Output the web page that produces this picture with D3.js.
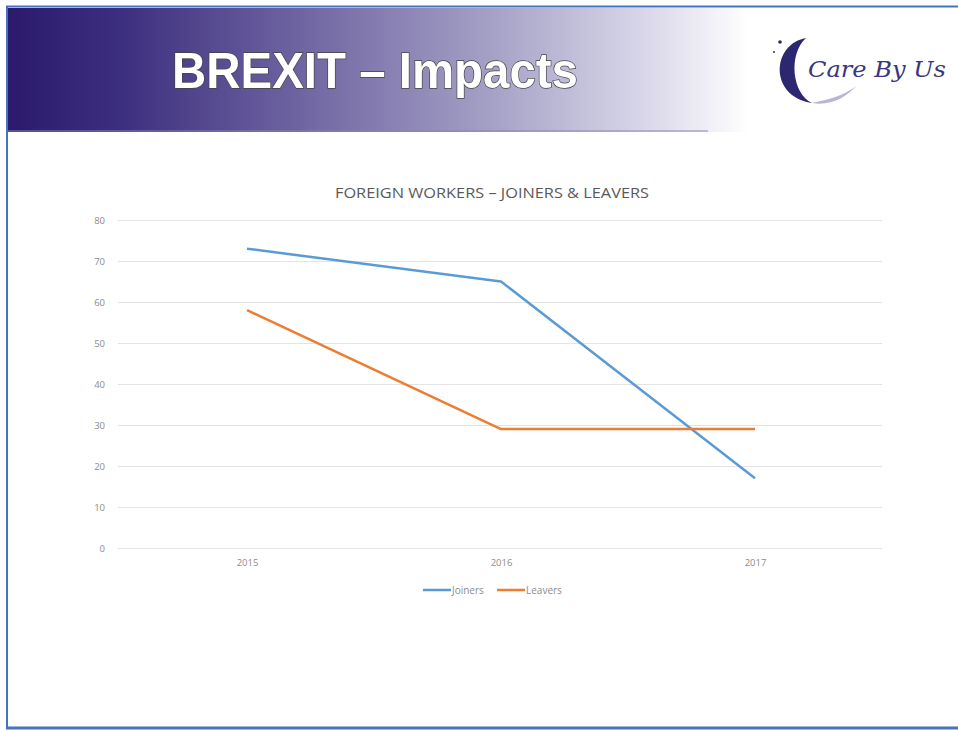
<!DOCTYPE html>
<html><head><meta charset="utf-8">
<script src="https://cdn.jsdelivr.net/npm/d3@7"></script>
<style>html,body{margin:0;padding:0;background:#fff;}svg{display:block;}</style>
</head><body>
<script>
const categories = ["2015", "2016", "2017"];
const joiners = [73, 65, 17];
const leavers = [58, 29, 29];
const yTicks = [0, 10, 20, 30, 40, 50, 60, 70, 80];
const seriesNames = ["Joiners", "Leavers"];
const seriesColors = ["#5b9bd5", "#ed7d31"];
const chartTitle = "FOREIGN WORKERS – JOINERS & LEAVERS";
const slideTitle = "BREXIT – Impacts";

const W = 958, H = 730;
const svg = d3.select("body").append("svg").attr("width", W).attr("height", H);
const defs = svg.append("defs");
const grad = defs.append("linearGradient").attr("id", "hdr").attr("x1", "0").attr("x2", "1").attr("y1", "0").attr("y2", "0");
[[0, "#2b1a6c"], [0.12, "#3d2f7f"], [0.3, "#6d62a0"], [0.5, "#a29ec4"], [0.68, "#dcdaeb"], [0.78, "#ffffff"], [1, "#ffffff"]]
  .forEach(([o, c]) => grad.append("stop").attr("offset", o).attr("stop-color", c));

svg.append("rect").attr("x", 0).attr("y", 0).attr("width", W).attr("height", H).attr("fill", "#fff");
svg.append("rect").attr("x", 8).attr("y", 8).attr("width", 950).attr("height", 124).attr("fill", "url(#hdr)");
svg.append("rect").attr("x", 8).attr("y", 130).attr("width", 700).attr("height", 2).attr("fill", "#8a82b5").attr("opacity", 0.5);

svg.append("line").attr("x1", 6).attr("x2", W).attr("y1", 6.5).attr("y2", 6.5).attr("stroke", "#4472c4").attr("stroke-width", 2);
svg.append("line").attr("x1", 7).attr("x2", 7).attr("y1", 6).attr("y2", 729).attr("stroke", "#4472c4").attr("stroke-width", 2);
svg.append("line").attr("x1", 6).attr("x2", W).attr("y1", 728).attr("y2", 728).attr("stroke", "#4472c4").attr("stroke-width", 3);

svg.append("text").attr("x", 172).attr("y", 88)
  .attr("font-family", "Liberation Sans, Arial, sans-serif").attr("font-weight", "bold").attr("font-size", 50)
  .attr("textLength", 406).attr("lengthAdjust", "spacingAndGlyphs")
  .attr("fill", "#fff").attr("stroke", "#444").attr("stroke-width", 1.4).attr("paint-order", "stroke")
  .text(slideTitle);

const logo = svg.append("g");
logo.append("path")
  .attr("d", "M806,38 C772,44 768,96 812,103 C792,94 788,54 806,38 Z")
  .attr("fill", "#2d2670");
logo.append("path")
  .attr("d", "M812,103 C830,106 846,98 856,86 C844,96 826,100 812,103 Z")
  .attr("fill", "#b8b6d4");
logo.append("circle").attr("cx", 780).attr("cy", 42).attr("r", 1.8).attr("fill", "#2d2670");
logo.append("circle").attr("cx", 774).attr("cy", 52).attr("r", 1).attr("fill", "#2d2670");
logo.append("text").attr("x", 808).attr("y", 77)
  .attr("font-family", "DejaVu Serif, serif").attr("font-style", "italic").attr("font-size", 22)
  .attr("textLength", 138).attr("lengthAdjust", "spacingAndGlyphs")
  .attr("fill", "#3b3680").text("Care By Us");

const margin = { left: 120, right: 882, top: 220, bottom: 548 };
const x = d3.scalePoint().domain(categories).range([margin.left, margin.right]).padding(0.5);
const y = d3.scaleLinear().domain([0, 80]).range([margin.bottom, margin.top]);

svg.append("text").attr("x", 335).attr("y", 198)
  .attr("font-family", "Open Sans, sans-serif").attr("font-size", 15).attr("fill", "#595959")
  .attr("textLength", 314).attr("lengthAdjust", "spacingAndGlyphs")
  .text(chartTitle);

const gy = svg.append("g").attr("transform", `translate(${margin.left - 2},0)`)
  .call(d3.axisLeft(y).tickValues(yTicks).tickSize(-(margin.right - margin.left + 2)).tickPadding(13));
gy.select(".domain").remove();
gy.selectAll(".tick line").attr("stroke", "#e3e3e3").attr("stroke-width", 1);
gy.selectAll(".tick text").attr("fill", "#8c8c8c").attr("font-size", 9.5).attr("font-family", "Open Sans, sans-serif");

const gx = svg.append("g").attr("transform", `translate(0,${margin.bottom})`)
  .call(d3.axisBottom(x).tickSize(0).tickPadding(11));
gx.select(".domain").remove();
gx.selectAll(".tick text").attr("fill", "#8c8c8c").attr("font-size", 9.5).attr("font-family", "Open Sans, sans-serif");

const line = d3.line().x((d, i) => x(categories[i])).y(d => y(d));
[joiners, leavers].forEach((s, k) => {
  svg.append("path").datum(s).attr("d", line).attr("fill", "none")
    .attr("stroke", seriesColors[k]).attr("stroke-width", 2.5).attr("stroke-linejoin", "round");
});

const legendItems = [{ x: 423, name: seriesNames[0], c: seriesColors[0] }, { x: 497, name: seriesNames[1], c: seriesColors[1] }];
legendItems.forEach(d => {
  svg.append("line").attr("x1", d.x).attr("x2", d.x + 28).attr("y1", 590).attr("y2", 590)
    .attr("stroke", d.c).attr("stroke-width", 2.5);
  svg.append("text").attr("x", d.x + 29).attr("y", 593.5).attr("font-size", 10)
    .attr("font-family", "Open Sans, sans-serif").attr("fill", "#8c8c8c").text(d.name);
});
</script>
</body></html>
